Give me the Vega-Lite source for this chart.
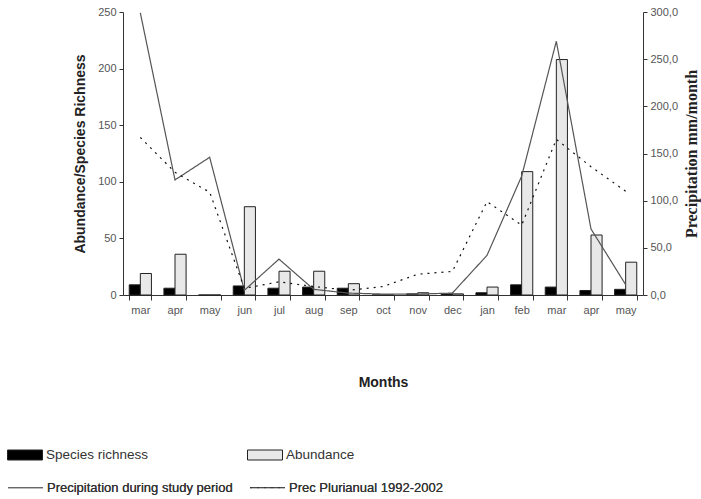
{
  "$schema": "https://vega.github.io/schema/vega-lite/v6.json",
  "width": 520,
  "height": 283,
  "autosize": {"type": "none"},
  "padding": {"left": 123, "top": 12, "right": 58, "bottom": 204},
  "background": "white",
  "config": {
    "view": {"stroke": null},
    "font": "Liberation Sans",
    "axis": {
      "grid": false,
      "domainColor": "#333",
      "tickColor": "#333",
      "labelColor": "#555",
      "labelFont": "Liberation Sans",
      "labelFontSize": 11,
      "titleFont": "Liberation Sans",
      "titleFontWeight": "bold",
      "titleFontSize": 14,
      "titleColor": "#222"
    },
    "legend": {
      "labelFont": "Liberation Sans",
      "labelFontSize": 14,
      "labelFontWeight": "normal",
      "labelColor": "#333",
      "labelLimit": 400
    }
  },
  "datasets": {
    "bars": [
      {"i": 0, "series": "Species richness", "value": 9},
      {"i": 1, "series": "Species richness", "value": 6},
      {"i": 2, "series": "Species richness", "value": 0},
      {"i": 3, "series": "Species richness", "value": 8},
      {"i": 4, "series": "Species richness", "value": 6},
      {"i": 5, "series": "Species richness", "value": 7},
      {"i": 6, "series": "Species richness", "value": 6},
      {"i": 7, "series": "Species richness", "value": 0},
      {"i": 8, "series": "Species richness", "value": 1},
      {"i": 9, "series": "Species richness", "value": 1},
      {"i": 10, "series": "Species richness", "value": 2},
      {"i": 11, "series": "Species richness", "value": 9},
      {"i": 12, "series": "Species richness", "value": 7},
      {"i": 13, "series": "Species richness", "value": 4},
      {"i": 14, "series": "Species richness", "value": 5},
      {"i": 0, "series": "Abundance", "value": 19},
      {"i": 1, "series": "Abundance", "value": 36},
      {"i": 2, "series": "Abundance", "value": 0},
      {"i": 3, "series": "Abundance", "value": 78},
      {"i": 4, "series": "Abundance", "value": 21},
      {"i": 5, "series": "Abundance", "value": 21},
      {"i": 6, "series": "Abundance", "value": 10},
      {"i": 7, "series": "Abundance", "value": 0},
      {"i": 8, "series": "Abundance", "value": 2},
      {"i": 9, "series": "Abundance", "value": 1},
      {"i": 10, "series": "Abundance", "value": 7},
      {"i": 11, "series": "Abundance", "value": 109},
      {"i": 12, "series": "Abundance", "value": 208},
      {"i": 13, "series": "Abundance", "value": 53},
      {"i": 14, "series": "Abundance", "value": 29}
    ],
    "prec": [
      {"i": 0, "series": "Precipitation during study period", "value": 299},
      {"i": 1, "series": "Precipitation during study period", "value": 122},
      {"i": 2, "series": "Precipitation during study period", "value": 146},
      {"i": 3, "series": "Precipitation during study period", "value": 5},
      {"i": 4, "series": "Precipitation during study period", "value": 38},
      {"i": 5, "series": "Precipitation during study period", "value": 6},
      {"i": 6, "series": "Precipitation during study period", "value": 2},
      {"i": 7, "series": "Precipitation during study period", "value": 1},
      {"i": 8, "series": "Precipitation during study period", "value": 1},
      {"i": 9, "series": "Precipitation during study period", "value": 2},
      {"i": 10, "series": "Precipitation during study period", "value": 42},
      {"i": 11, "series": "Precipitation during study period", "value": 126},
      {"i": 12, "series": "Precipitation during study period", "value": 269},
      {"i": 13, "series": "Precipitation during study period", "value": 70},
      {"i": 14, "series": "Precipitation during study period", "value": 11},
      {"i": 0, "series": "Prec  Plurianual 1992-2002", "value": 167},
      {"i": 1, "series": "Prec  Plurianual 1992-2002", "value": 130},
      {"i": 2, "series": "Prec  Plurianual 1992-2002", "value": 109},
      {"i": 3, "series": "Prec  Plurianual 1992-2002", "value": 7},
      {"i": 4, "series": "Prec  Plurianual 1992-2002", "value": 14},
      {"i": 5, "series": "Prec  Plurianual 1992-2002", "value": 9},
      {"i": 6, "series": "Prec  Plurianual 1992-2002", "value": 5},
      {"i": 7, "series": "Prec  Plurianual 1992-2002", "value": 9},
      {"i": 8, "series": "Prec  Plurianual 1992-2002", "value": 22},
      {"i": 9, "series": "Prec  Plurianual 1992-2002", "value": 25},
      {"i": 10, "series": "Prec  Plurianual 1992-2002", "value": 99},
      {"i": 11, "series": "Prec  Plurianual 1992-2002", "value": 74},
      {"i": 12, "series": "Prec  Plurianual 1992-2002", "value": 165},
      {"i": 13, "series": "Prec  Plurianual 1992-2002", "value": 136},
      {"i": 14, "series": "Prec  Plurianual 1992-2002", "value": 110}
    ]
  },
  "layer": [
    {
      "data": {"name": "bars"},
      "mark": {"type": "bar", "stroke": "#222", "strokeWidth": 1},
      "encoding": {
        "x": {
          "field": "i",
          "type": "ordinal",
          "scale": {"paddingInner": 0.36, "paddingOuter": 0.18},
          "axis": {
            "title": "Months",
            "titlePadding": 60,
            "labelAngle": 0,
            "labelExpr": "['mar','apr','may','jun','jul','aug','sep','oct','nov','dec','jan','feb','mar','apr','may'][datum.value]",
            "tickBand": "extent",
            "tickSize": 5,
            "labelPadding": 4
          }
        },
        "xOffset": {
          "field": "series",
          "type": "nominal",
          "sort": ["Species richness", "Abundance"],
          "scale": {"paddingInner": 0, "paddingOuter": 0}
        },
        "y": {
          "field": "value",
          "type": "quantitative",
          "scale": {"domain": [0, 250]},
          "axis": {
            "title": "Abundance/Species Richness",
            "values": [0, 50, 100, 150, 200, 250],
            "tickSize": 4,
            "labelPadding": 3,
            "titlePadding": 10
          }
        },
        "fill": {
          "field": "series",
          "type": "nominal",
          "scale": {"domain": ["Species richness", "Abundance"], "range": ["#000000", "#e8e8e8"]},
          "legend": {
            "title": null,
            "orient": "none",
            "legendX": -116,
            "legendY": 425,
            "direction": "horizontal",
            "columns": 2,
            "columnPadding": 96,
            "symbolType": "M-1,-0.2857L1,-0.2857L1,0.2857L-1,0.2857Z",
            "symbolSize": 1225,
            "symbolStrokeColor": "#222",
            "symbolStrokeWidth": 1,
            "symbolOpacity": 1,
            "labelOffset": 3,
            "labelFontSize": 13.5
          }
        }
      }
    },
    {
      "data": {"name": "prec"},
      "mark": {"type": "line", "strokeWidth": 1.2},
      "encoding": {
        "x": {"field": "i", "type": "ordinal"},
        "y": {
          "field": "value",
          "type": "quantitative",
          "scale": {"domain": [0, 300]},
          "axis": {
            "orient": "right",
            "title": "Precipitation mm/month",
            "titleFont": "Liberation Serif",
            "titleFontSize": 16,
            "titleAngle": 270,
            "titlePadding": 22,
            "values": [0, 50, 100, 150, 200, 250, 300],
            "labelExpr": "replace(format(datum.value, '.1f'), '.', ',')",
            "tickSize": 4,
            "labelPadding": 3
          }
        },
        "stroke": {
          "field": "series",
          "type": "nominal",
          "scale": {"domain": ["Precipitation during study period", "Prec  Plurianual 1992-2002"], "range": ["#555555", "#111111"]},
          "legend": {
            "title": null,
            "orient": "none",
            "legendX": -116,
            "legendY": 457,
            "direction": "horizontal",
            "columns": 2,
            "columnPadding": 14,
            "symbolType": "stroke",
            "symbolSize": 1225,
            "symbolStrokeWidth": 1.2,
            "labelOffset": 3,
            "labelFontSize": 13,
            "labelLimit": 400
          }
        },
        "strokeDash": {
          "field": "series",
          "type": "nominal",
          "scale": {"domain": ["Precipitation during study period", "Prec  Plurianual 1992-2002"], "range": [[1, 0], [2, 5]]},
          "legend": {
            "title": null,
            "orient": "none",
            "legendX": -116,
            "legendY": 457,
            "direction": "horizontal",
            "columns": 2,
            "columnPadding": 14,
            "symbolType": "stroke",
            "symbolSize": 1225,
            "symbolStrokeWidth": 1.2,
            "labelOffset": 3,
            "labelFontSize": 13,
            "labelLimit": 400
          }
        }
      }
    }
  ],
  "resolve": {"scale": {"y": "independent", "fill": "independent", "stroke": "independent"}}
}
